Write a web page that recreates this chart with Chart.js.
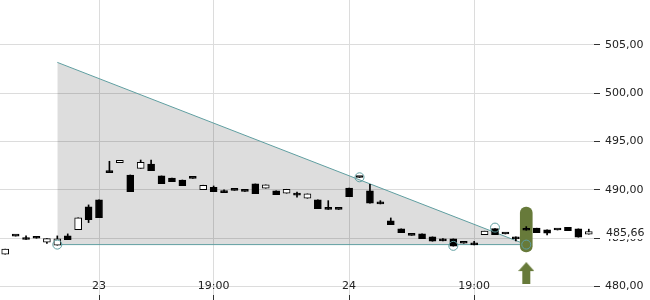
<!DOCTYPE html>
<html><head><meta charset="utf-8">
<script src="https://cdn.jsdelivr.net/npm/chart.js@4"></script>
<style>html,body{margin:0;padding:0;background:#fff;}#wrap{width:650px;height:300px;}</style>
</head><body><div id="wrap"><canvas id="c" width="650" height="300"></canvas></div>
<script>
// ---- data ----
const slots = ['s00','s01','s02','s03','s04','s05','s06','s07','s08','s09','s10','s11','s12','s13','s14','s15','s16','s17','s18','s19','s20','s21','s22','s23','s24','s25','s26','s27','s28','s29','s30','s31','s32','s33','s34','s35','s36','s37','s38','s39','s40','s41','s42','s43','s44','s45','s46','s47','s48','s49','s50','s51','s52','s53','s54','s55','s56'];
const openVals  = [483.33,485.24,484.95,485.10,484.57,484.26,485.22,485.87,488.22,488.95,491.84,492.80,491.53,492.22,492.67,491.43,491.22,491.01,491.20,490.01,490.26,489.88,489.96,489.85,490.60,490.16,489.88,489.64,489.52,489.12,488.95,488.00,487.99,490.16,491.30,489.88,488.67,486.77,485.95,485.30,485.43,485.12,484.81,484.91,484.48,484.50,485.36,485.98,485.44,484.96,485.95,486.02,485.84,485.85,486.12,485.95,485.40];
const closeVals = [483.85,485.20,484.85,484.98,484.94,484.91,484.84,487.08,486.91,487.11,491.77,493.05,489.80,492.84,491.98,490.63,490.84,490.42,491.18,490.47,489.80,489.70,489.94,489.83,489.60,490.50,489.49,490.05,489.45,489.57,488.05,487.96,487.96,489.29,491.27,488.60,488.53,486.39,485.56,485.28,484.94,484.67,484.71,484.16,484.46,484.29,485.71,485.36,485.42,484.92,485.81,485.56,485.50,485.83,485.77,485.09,485.66];
const highVals  = [483.85,485.24,485.22,485.10,484.94,485.22,485.43,487.08,488.43,488.95,492.95,493.05,491.53,493.08,493.08,491.43,491.22,491.01,491.20,490.47,490.39,490.00,489.96,489.85,490.60,490.50,489.88,490.05,489.77,489.57,488.95,488.87,487.99,490.16,491.30,490.57,488.87,487.08,485.95,485.30,485.43,485.12,484.94,484.91,484.48,484.67,485.71,485.98,485.44,485.12,486.18,486.02,485.84,485.85,486.12,485.95,485.92];
const lowVals   = [483.33,485.20,484.85,484.98,484.43,484.26,484.84,485.87,486.60,487.11,491.77,492.80,489.80,492.22,491.98,490.63,490.84,490.42,491.18,490.01,489.80,489.70,489.94,489.83,489.60,490.16,489.49,489.64,489.22,489.12,488.05,487.96,487.96,489.29,491.27,488.60,488.53,486.39,485.56,485.28,484.94,484.67,484.71,484.16,484.46,484.29,485.36,485.36,485.42,484.71,485.81,485.56,485.33,485.83,485.77,485.09,485.40];
const xTickIdx  = [9, 20, 33, 45];
const xTickText = ['23', '19:00', '24', '19:00'];
const yTicks    = [480, 485, 490, 495, 500, 505];
const triStartIdx = 5, triEndIdx = 50;
const triTop = 503.19, triBase = 484.32;
const touchIdx  = [5, 34, 43, 47, 50];
const touchVals = [484.32, 491.29, 484.19, 486.08, 484.32];
const signalIdx = 50;
const signalRange = [483.57, 488.20];
const arrowVal = 481.37;
const lastPrice = 485.66;

// ---- styles ----
const TEAL = '#5f9ea0';
const OLIVE = '#677a3a';
const fmt = v => v.toFixed(2).replace('.', ',');

const arrowImg = document.createElement('canvas');
arrowImg.width = 16; arrowImg.height = 22;
(function(){
  const g = arrowImg.getContext('2d');
  g.fillStyle = OLIVE;
  g.beginPath();
  g.moveTo(8, 0); g.lineTo(16, 9); g.lineTo(12, 9); g.lineTo(12, 22);
  g.lineTo(4, 22); g.lineTo(4, 9); g.lineTo(0, 9); g.closePath(); g.fill();
})();

const lastLabel = {
  id: 'lastLabel',
  afterDraw(chart) {
    const y = chart.scales.y;
    const py = y.getPixelForValue(lastPrice);
    const ctx = chart.ctx;
    ctx.save();
    ctx.fillStyle = '#fff';
    ctx.fillRect(y.left + 9, Math.round(py) - 6, chart.width - y.left - 9, 13);
    ctx.fillStyle = '#222';
    ctx.font = '11px "DejaVu Sans"';
    ctx.textBaseline = 'middle';
    ctx.fillText(fmt(lastPrice), y.left + 12, py + 1);
    ctx.restore();
  }
};

Chart.defaults.font.family = '"DejaVu Sans", sans-serif';
Chart.defaults.font.size = 11;
Chart.defaults.color = '#222';

const bodies = slots.map((s, i) => [openVals[i], closeVals[i]]);
const wicks = slots.map((s, i) => [lowVals[i], highVals[i]]);
const pill = slots.map((s, i) => i === signalIdx ? signalRange : null);

const noPad = (s) => { s.paddingTop = 0; s.paddingBottom = 0; s.paddingLeft = 0; s.paddingRight = 0; };

new Chart(document.getElementById('c'), {
  type: 'bar',
  data: {
    labels: slots,
    datasets: [
      { type: 'line', data: [{x: slots[triStartIdx], y: triTop}, {x: slots[triEndIdx], y: triBase}],
        borderColor: TEAL, borderWidth: 1, pointRadius: 0, fill: {value: triBase},
        backgroundColor: 'rgba(0,0,0,0.135)', order: 9 },
      { type: 'line', data: [{x: slots[triStartIdx], y: triBase}, {x: slots[triEndIdx], y: triBase}],
        borderColor: TEAL, borderWidth: 1, pointRadius: 0, fill: false, order: 8 },
      { data: pill, backgroundColor: OLIVE, barThickness: 12, borderRadius: 6, borderSkipped: false,
        grouped: false, order: 7 },
      { data: wicks, backgroundColor: '#000', barThickness: 1, grouped: false, borderSkipped: false, order: 3 },
      { data: bodies, barThickness: 7, grouped: false, minBarLength: 2, borderWidth: 1, borderSkipped: false,
        borderColor: '#000',
        backgroundColor: slots.map((s, i) => closeVals[i] > openVals[i] ? '#fff' : '#000'), order: 2 },
      { type: 'line', showLine: false, data: touchIdx.map((k, j) => ({x: slots[k], y: touchVals[j]})),
        pointRadius: 4.5, pointBorderColor: TEAL, pointBackgroundColor: 'rgba(0,0,0,0)', pointBorderWidth: 1, order: 1 },
      { type: 'line', showLine: false, data: [{x: slots[signalIdx], y: arrowVal}],
        pointStyle: arrowImg, order: 0 }
    ]
  },
  options: {
    responsive: false, animation: false, devicePixelRatio: 1,
    layout: { padding: 0, autoPadding: false },
    plugins: { legend: {display: false}, tooltip: {enabled: false} },
    scales: {
      x: {
        offset: true,
        grid: { offset: false, color: '#dcdcdc', tickColor: '#333', tickLength: 5 },
        border: { display: false },
        ticks: { autoSkip: false, maxRotation: 0, mirror: true, padding: 2, color: '#222',
                 callback: (v) => xTickText[xTickIdx.indexOf(v)] },
        afterBuildTicks: (s) => { s.ticks = xTickIdx.map(v => ({value: v})); },
        afterFit: (s) => { s.height = 5; noPad(s); }
      },
      y: {
        position: 'right', min: 479.1, max: 509.65,
        grid: { color: '#dcdcdc', tickColor: '#333', tickLength: 6 },
        border: { display: false },
        ticks: { padding: 5, color: '#222', callback: (v) => fmt(v) },
        afterBuildTicks: (s) => { s.ticks = yTicks.map(v => ({value: v})); },
        afterFit: (s) => { s.width = 56; noPad(s); }
      }
    }
  },
  plugins: [lastLabel]
});
</script>
</body></html>
